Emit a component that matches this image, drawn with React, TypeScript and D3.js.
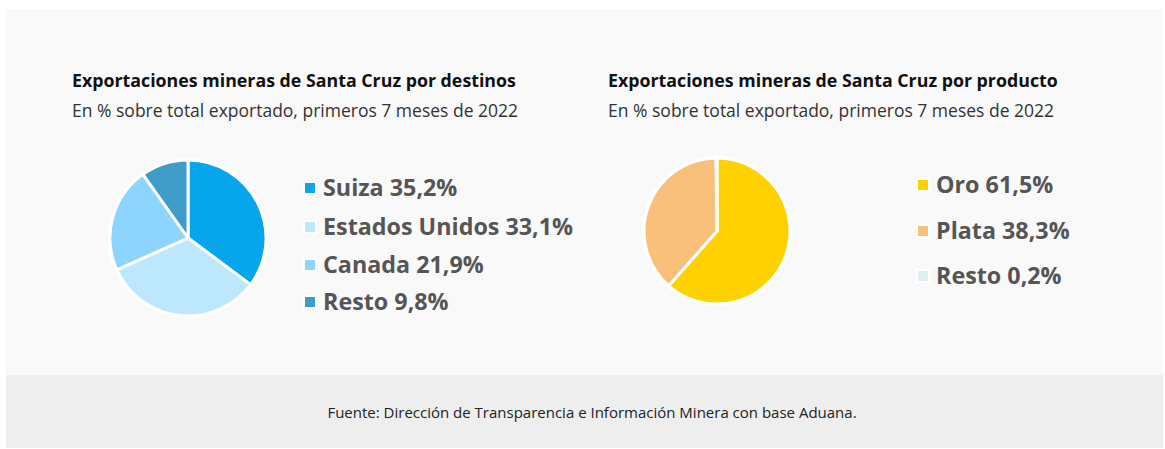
import React, { useEffect, useRef } from 'react';
import * as d3 from 'd3';

// destinos
const destinos = ['Suiza', 'Estados Unidos', 'Canada', 'Resto'];
const destinosValues = [35.2, 33.1, 21.9, 9.8];
const destinosColors = ['#06a6ec', '#bde7fd', '#8dd4fe', '#3f9bc8'];

// productos
const productos = ['Oro', 'Plata', 'Resto'];
const productosValues = [61.5, 38.3, 0.2];
const productosColors = ['#ffd100', '#f9c07c', '#dfeff0'];

const titles = [
  'Exportaciones mineras de Santa Cruz por destinos',
  'Exportaciones mineras de Santa Cruz por producto',
];
const subtitle = 'En % sobre total exportado, primeros 7 meses de 2022';
const source = 'Fuente: Dirección de Transparencia e Información Minera con base Aduana.';

const fmt = (v: number) => v.toFixed(1).replace('.', ',') + '%';

const App = () => {
  const svgRef = useRef<SVGSVGElement>(null);

  useEffect(() => {
    const width = 1165;
    const height = 449;
    const svg = d3.select(svgRef.current).attr('width', width).attr('height', height);
    svg.selectAll('*').remove();

    const font = "'Open Sans', 'Roboto', sans-serif";

    // backgrounds
    svg.append('rect').attr('x', 0).attr('y', 0).attr('width', width).attr('height', height).attr('fill', '#ffffff');
    svg.append('rect').attr('x', 6).attr('y', 9).attr('width', 1157).attr('height', 366).attr('fill', '#f9f9f9');
    svg.append('rect').attr('x', 6).attr('y', 375).attr('width', 1157).attr('height', 73).attr('fill', '#eeeeee');

    const pie = d3.pie<number>().sort(null).value((d) => d);

    const drawPanel = (
      x0: number,
      title: string,
      names: string[],
      values: number[],
      colors: string[],
      cx: number,
      cy: number,
      r: number,
      legendX: number,
      legendY: number[],
    ) => {
      svg.append('text')
        .attr('x', x0).attr('y', 87)
        .attr('font-family', font).attr('font-weight', 700).attr('font-size', 17.8)
        .attr('fill', '#111').text(title);
      svg.append('text')
        .attr('x', x0).attr('y', 117)
        .attr('font-family', font).attr('font-size', 17.5)
        .attr('fill', '#333').text(subtitle);

      const arc = d3.arc<d3.PieArcDatum<number>>().innerRadius(0).outerRadius(r);
      const g = svg.append('g').attr('transform', `translate(${cx},${cy})`);
      g.append('circle').attr('r', r + 2).attr('fill', '#ffffff');
      g.selectAll('path')
        .data(pie(values))
        .join('path')
        .attr('d', arc)
        .attr('fill', (_, i) => colors[i])
        .attr('stroke', '#ffffff')
        .attr('stroke-width', 3)
        .attr('stroke-linejoin', 'round');

      const lg = svg.append('g');
      names.forEach((n, i) => {
        const y = legendY[i];
        lg.append('rect')
          .attr('x', legendX - 2).attr('y', y - 7).attr('width', 14).attr('height', 14)
          .attr('fill', '#ffffff');
        lg.append('rect')
          .attr('x', legendX).attr('y', y - 5).attr('width', 10).attr('height', 10)
          .attr('fill', colors[i]);
        lg.append('text')
          .attr('x', legendX + 18).attr('y', y)
          .attr('dy', '0.35em')
          .attr('font-family', font).attr('font-weight', 700).attr('font-size', 23.3)
          .attr('fill', '#555555')
          .text(`${n} ${fmt(values[i])}`);
      });
    };

    drawPanel(72, titles[0], destinos, destinosValues, destinosColors, 188, 238, 78, 305, [188, 227, 265, 302]);
    drawPanel(608, titles[1], productos, productosValues, productosColors, 717, 231, 73, 918, [185, 231, 276]);

    svg.append('text')
      .attr('x', 592).attr('y', 413)
      .attr('dy', '0.35em')
      .attr('text-anchor', 'middle')
      .attr('font-family', font)
      .attr('font-size', 15)
      .attr('fill', '#222')
      .text(source);
  }, []);

  return (
    <div style={{ position: 'absolute', left: 0, top: 0 }}>
      <svg ref={svgRef}></svg>
    </div>
  );
};

export default App;
